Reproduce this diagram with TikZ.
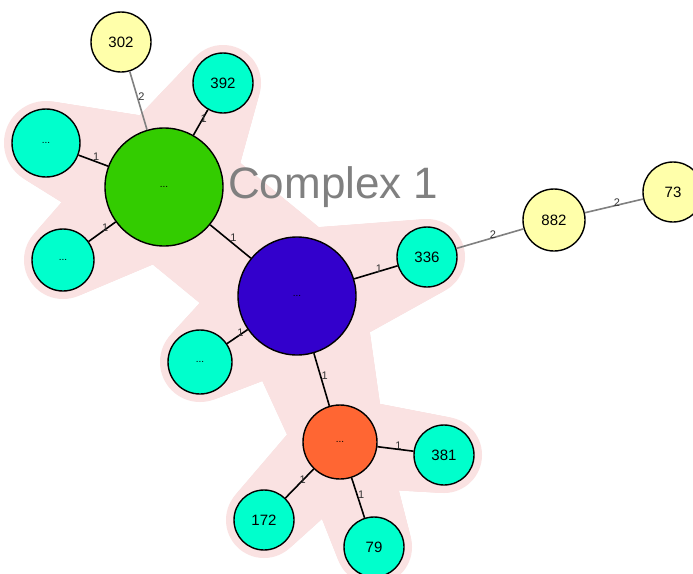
\documentclass[tikz,border=0pt]{standalone}
\usepackage{fontspec}
\setmainfont{Liberation Sans}
\usetikzlibrary{calc}
\definecolor{nodecyan}{RGB}{0,255,204}
\definecolor{nodeyellow}{RGB}{255,255,170}
\definecolor{nodegreen}{RGB}{51,204,0}
\definecolor{nodeblue}{RGB}{51,0,204}
\definecolor{nodeorange}{RGB}{255,102,51}
\definecolor{hullpink}{RGB}{250,226,226}
\definecolor{edgegray}{RGB}{128,128,128}
\tikzset{
  stnode/.style={circle, draw=black, line width=1.4pt, inner sep=0pt, font=\fontsize{15}{15}\selectfont},
  dots/.style={font=\fontsize{10}{10}\selectfont},
  cyannode/.style={stnode, fill=nodecyan, minimum size=#1},
  yellownode/.style={stnode, fill=nodeyellow, minimum size=#1},
  edgeone/.style={draw=black, line width=1.6pt},
  edgetwo/.style={draw=edgegray, line width=1.6pt},
  elab/.style={midway, font=\fontsize{11}{11}\selectfont, inner sep=0pt, xshift=3pt, yshift=3.5pt, text=black!80},
}
\newcommand\hullband[4]{%
  \foreach \i in {0,...,40}{%
    \pgfmathsetmacro\rr{(#3+8)*(1-\i/40)+(#4+8)*\i/40}%
    \fill[hullpink] ($(#1)!\i/40!(#2)$) circle[radius=\rr pt];
  }}
\begin{document}
\begin{tikzpicture}[x=1pt,y=-1pt]
\useasboundingbox (0,0) rectangle (693,573);
\clip (0,0) rectangle (693,573);
\fill[white] (0,0) rectangle (693,573);
% positions
\coordinate (pG) at (164,187);
\coordinate (pB) at (297,296);
\coordinate (pO) at (340,442);
\coordinate (pLT) at (46,143);
\coordinate (pLB) at (63,260);
\coordinate (pLS) at (200,362);
\coordinate (p392) at (223,83);
\coordinate (p336) at (427,257);
\coordinate (p381) at (444,455);
\coordinate (p172) at (264,520);
\coordinate (p79) at (374,547);
\coordinate (p302) at (121,42);
\coordinate (p882) at (554,220);
\coordinate (p73) at (673,192);
% complex hull
\hullband{pG}{pLT}{59}{34}
\hullband{pG}{pLB}{59}{31}
\hullband{pG}{p392}{59}{30}
\hullband{pG}{pB}{59}{59}
\hullband{pB}{p336}{59}{30}
\hullband{pB}{pLS}{59}{32}
\hullband{pB}{pO}{59}{37}
\hullband{pO}{p381}{37}{30}
\hullband{pO}{p172}{37}{30}
\hullband{pO}{p79}{37}{30}
% title
\node[anchor=base west, inner sep=0pt, text=edgegray, font=\fontsize{44}{44}\selectfont] (title) at (228,198) {Complex 1};
% nodes
\node[stnode, fill=nodegreen, minimum size=118pt, dots] (G) at (pG) {...};
\node[stnode, fill=nodeblue, minimum size=118pt, dots] (B) at (pB) {...};
\node[stnode, fill=nodeorange, minimum size=74pt, dots] (O) at (pO) {...};
\node[cyannode=68pt, dots] (LT) at (pLT) {...};
\node[cyannode=62pt, dots] (LB) at (pLB) {...};
\node[cyannode=64pt, dots] (LS) at (pLS) {...};
\node[cyannode=60pt] (n392) at (p392) {392};
\node[cyannode=60pt] (n336) at (p336) {336};
\node[cyannode=60pt] (n381) at (p381) {381};
\node[cyannode=60pt] (n172) at (p172) {172};
\node[cyannode=60pt] (n79) at (p79) {79};
\node[yellownode=60pt] (n302) at (p302) {302};
\node[yellownode=62pt] (n882) at (p882) {882};
\node[yellownode=60pt] (n73) at (p73) {73};
% edges
\draw[edgetwo] (n302) -- (G) node[elab] {2};
\draw[edgeone] (LT) -- (G) node[elab] {1};
\draw[edgeone] (LB) -- (G) node[elab] {1};
\draw[edgeone] (G) -- (n392) node[elab] {1};
\draw[edgeone] (G) -- (B) node[elab] {1};
\draw[edgeone] (B) -- (n336) node[elab] {1};
\draw[edgeone] (LS) -- (B) node[elab] {1};
\draw[edgeone] (B) -- (O) node[elab] {1};
\draw[edgeone] (O) -- (n381) node[elab] {1};
\draw[edgeone] (n172) -- (O) node[elab] {1};
\draw[edgeone] (O) -- (n79) node[elab] {1};
\draw[edgetwo] (n336) -- (n882) node[elab] {2};
\draw[edgetwo] (n882) -- (n73) node[elab] {2};
\end{tikzpicture}
\end{document}
